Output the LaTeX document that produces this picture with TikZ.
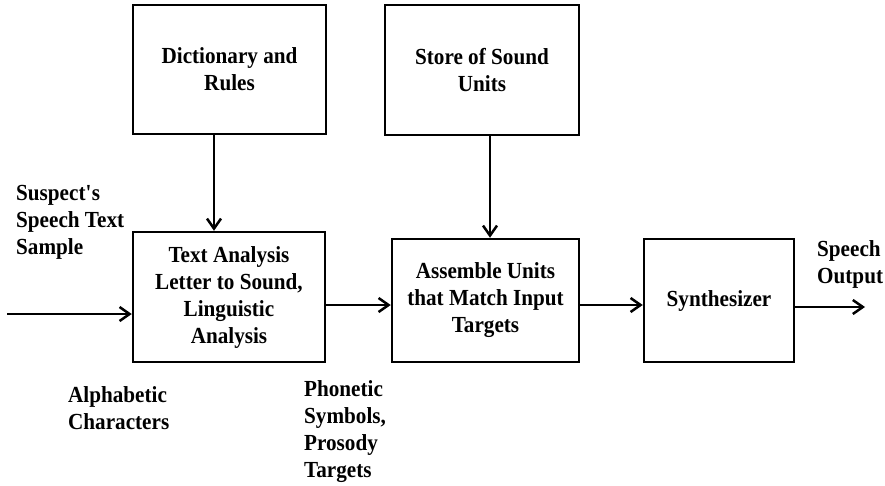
\documentclass[tikz,border=0pt]{standalone}
\usepackage{fontspec}
\setmainfont{Liberation Serif}[FakeStretch=0.92]
\usepackage{tikz}
\usetikzlibrary{arrows.meta}

\tikzset{
    block/.style={draw, line width=2.5pt, inner sep=0pt, align=center,
        font=\fontsize{23}{27}\selectfont\bfseries},
    lbl/.style={inner sep=0pt, align=left, anchor=north west,
        font=\fontsize{23}{27}\selectfont\bfseries},
    arr/.style={line width=2.5pt, -{Straight Barb[length=10pt,width=14pt,line width=2.5pt]}}
}

\begin{document}
\begin{tikzpicture}[x=1pt, y=-1pt]
    \useasboundingbox (0,0) rectangle (885,485);

    % Blocks
    \node[block, minimum width=193pt, minimum height=129pt] (dict) at (229.5,69.5) {Dictionary and\\Rules};
    \node[block, minimum width=194pt, minimum height=130pt] (store) at (482,70) {Store of Sound\\Units};
    \node[block, minimum width=192pt, minimum height=130pt] (analysis) at (229,297) {Text Analysis\\Letter to Sound,\\Linguistic\\Analysis};
    \node[block, minimum width=187pt, minimum height=123pt] (assemble) at (485.5,300.5) {Assemble Units\\that Match Input\\Targets};
    \node[block, minimum width=150pt, minimum height=123pt] (synth) at (719,300.5) {Synthesizer};

    % Labels
    \node[lbl] (lblinput) at (16,185) {Suspect\textquotesingle s\\Speech Text\\Sample};
    \node[lbl] (lblalpha) at (68,386) {Alphabetic\\Characters};
    \node[lbl] (lblphon) at (304,380) {Phonetic\\Symbols,\\Prosody\\Targets};
    \node[lbl] (lbloutput) at (817,240) {Speech\\Output};

    % Free ends
    \coordinate (in) at (7,314);
    \coordinate (out) at (865,307);

    % Connectors
    \draw[arr] ([xshift=-15.5pt]dict.south) -- ([xshift=-15.5pt]dict.south |- analysis.north);
    \draw[arr] ([xshift=8pt]store.south) -- ([xshift=8pt]store.south |- assemble.north);
    \draw[arr] (in) -- (in -| analysis.west);
    \draw[arr] ([yshift=-8pt]analysis.east) -- ([yshift=-8pt]analysis.east -| assemble.west);
    \draw[arr] ([yshift=-4.5pt]assemble.east) -- ([yshift=-4.5pt]assemble.east -| synth.west);
    \draw[arr] (synth.east |- out) -- (out);
\end{tikzpicture}
\end{document}
